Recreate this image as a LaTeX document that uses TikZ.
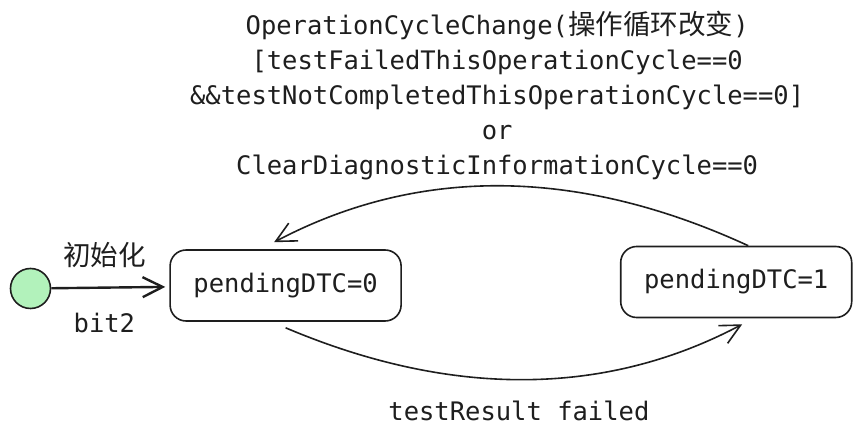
\documentclass[tikz,border=0pt]{standalone}
\usepackage{fontspec}
\setmonofont{DejaVu Sans Mono}
\newfontfamily\cjk[Scale=1.08]{Noto Sans CJK SC}
\usetikzlibrary{arrows.meta, positioning}
\definecolor{ink}{HTML}{1E1E1E}
\definecolor{initgreen}{HTML}{B2F2BB}

\begin{document}
\begin{tikzpicture}[x=1pt, y=1pt, >={Straight Barb[length=20pt,width=20pt]},
    every node/.style={font=\ttfamily\fontsize{25.5}{35}\selectfont, text=ink},
    dtcstate/.style={draw=ink, line width=1.6pt, rounded corners=16pt, minimum width=231pt, minimum height=71pt},
    initstate/.style={circle, draw=ink, fill=initgreen, line width=1.6pt, minimum size=40pt, inner sep=0pt},
    trans/.style={draw=ink, line width=1.6pt}]
    \useasboundingbox (0,0) rectangle (858,438);

    \node[initstate] (init) at (30.5,149.5) {};
    \node[dtcstate, right=118pt of init, yshift=3pt] (P0) {pendingDTC=0};
    \node[dtcstate, right=218pt of P0, yshift=3.5pt] (P1) {pendingDTC=1};

    % Transitions
    \draw[->, trans, line width=2.4pt, shorten >=4pt] (init) -- (P0)
        node[pos=0.45, above=15pt] {\cjk 初始化}
        node[pos=0.45, below=21pt] {bit2};

    \draw[->, trans] ([xshift=12pt]P1.north) .. controls +(-169.3,78) and +(145.3,76.7) .. ([xshift=-11.5pt, yshift=7pt]P0.north)
        node[midway, above=2pt, xshift=-5pt, align=center] {OperationCycleChange({\cjk 操作循环改变})\\
        {[}testFailedThisOperationCycle==0\\
        \&\&testNotCompletedThisOperationCycle==0]\\
        or\\
        ClearDiagnosticInformationCycle==0};

    \draw[->, trans] ([yshift=-6pt]P0.south) .. controls +(166,-70.3) and +(-136.7,-72.3) .. ([xshift=6pt, yshift=-6pt]P1.south)
        node[midway, below=17pt, xshift=-6pt] {testResult failed};
\end{tikzpicture}
\end{document}
